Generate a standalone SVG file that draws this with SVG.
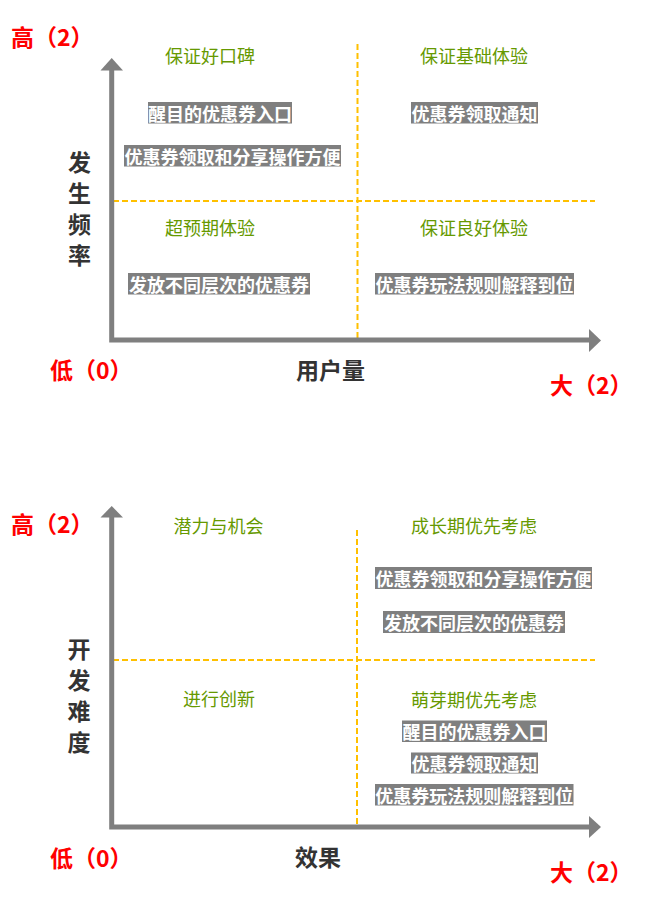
<svg xmlns="http://www.w3.org/2000/svg" width="652" height="905" viewBox="0 0 652 905">
<defs>
<style>
text{font-family:"Noto Sans CJK SC","Liberation Sans",sans-serif;dominant-baseline:central}
.axis{stroke:#7f7f7f;stroke-width:5;fill:none}
.head{fill:#7f7f7f}
.dash{stroke:#ffc000;stroke-width:2;stroke-dasharray:6 3;fill:none}
.q{fill:#669900;font-size:18px;text-anchor:middle}
.box rect{fill:#7f7f7f}
.box text{fill:#ffffff;font-size:18px;font-weight:bold;text-anchor:middle}
.red{fill:#ff0000;font-size:23px;font-weight:bold}
.ax{fill:#333333;font-size:23px;font-weight:bold}
.yl{fill:#333333;font-size:23px;font-weight:bold;text-anchor:middle}
</style>
</defs>
<rect width="652" height="905" fill="#ffffff"/>

<g id="connectors">
  <!-- chart 1 -->
  <path class="dash" d="M357.5,44 V338"/>
  <path class="dash" d="M113,201 H595"/>
  <path class="axis" d="M111.7,70 V340 H589"/>
  <polygon class="head" points="100.5,70.5 123,70.5 111.7,58"/>
  <polygon class="head" points="589,329 589,352 601,340.5"/>
  <!-- chart 2 -->
  <path class="dash" d="M357,530 V825"/>
  <path class="dash" d="M113,660 H595"/>
  <path class="axis" d="M111.7,517 V827 H589"/>
  <polygon class="head" points="100.5,517.5 123,517.5 111.7,506"/>
  <polygon class="head" points="589,816 589,838 601,827"/>
</g>

<g id="chart1-labels">
  <text class="red" x="11" y="36">高（2）</text>
  <text class="red" x="50" y="369">低（0）</text>
  <text class="red" x="550" y="384">大（2）</text>
  <text class="ax" x="296" y="369">用户量</text>
  <g id="ylabel1">
    <text class="yl" x="79.5" y="161">发</text>
    <text class="yl" x="79.5" y="192">生</text>
    <text class="yl" x="79.5" y="223">频</text>
    <text class="yl" x="79.5" y="254">率</text>
  </g>
</g>

<g id="q1-tl"><text class="q" x="210" y="55">保证好口碑</text></g>
<g id="q1-tr"><text class="q" x="474" y="55">保证基础体验</text></g>
<g id="q1-bl"><text class="q" x="210" y="226.5">超预期体验</text></g>
<g id="q1-br"><text class="q" x="474" y="226.5">保证良好体验</text></g>

<g id="n1" class="box"><rect x="148" y="102" width="144" height="21.5"/><text x="220" y="112.5">醒目的优惠券入口</text></g>
<g id="n2" class="box"><rect x="124" y="145" width="217" height="21.5"/><text x="232.5" y="155.5">优惠券领取和分享操作方便</text></g>
<g id="n3" class="box"><rect x="411" y="102" width="127" height="21.5"/><text x="474.5" y="112.5">优惠券领取通知</text></g>
<g id="n4" class="box"><rect x="128" y="273" width="182" height="21.5"/><text x="219" y="283.5">发放不同层次的优惠券</text></g>
<g id="n5" class="box"><rect x="375" y="273" width="199" height="21.5"/><text x="474.5" y="283.5">优惠券玩法规则解释到位</text></g>

<g id="chart2-labels">
  <text class="red" x="11" y="522.5">高（2）</text>
  <text class="red" x="50" y="856.5">低（0）</text>
  <text class="red" x="550" y="871">大（2）</text>
  <text class="ax" x="295" y="856">效果</text>
  <g id="ylabel2">
    <text class="yl" x="79" y="648">开</text>
    <text class="yl" x="79" y="679">发</text>
    <text class="yl" x="79" y="710">难</text>
    <text class="yl" x="79" y="741">度</text>
  </g>
</g>

<g id="q2-tl"><text class="q" x="218.5" y="525">潜力与机会</text></g>
<g id="q2-tr"><text class="q" x="474" y="525">成长期优先考虑</text></g>
<g id="q2-bl"><text class="q" x="219" y="698">进行创新</text></g>
<g id="q2-br"><text class="q" x="474" y="699">萌芽期优先考虑</text></g>

<g id="n6" class="box"><rect x="375" y="567" width="217" height="22"/><text x="483.5" y="578">优惠券领取和分享操作方便</text></g>
<g id="n7" class="box"><rect x="383" y="611" width="182" height="22"/><text x="474" y="622">发放不同层次的优惠券</text></g>
<g id="n8" class="box"><rect x="402" y="720.5" width="145" height="21.5"/><text x="474.5" y="731">醒目的优惠券入口</text></g>
<g id="n9" class="box"><rect x="411" y="752.5" width="127" height="21"/><text x="474.5" y="763">优惠券领取通知</text></g>
<g id="n10" class="box"><rect x="375" y="784" width="198.5" height="21.5"/><text x="474.25" y="794.75">优惠券玩法规则解释到位</text></g>
</svg>
